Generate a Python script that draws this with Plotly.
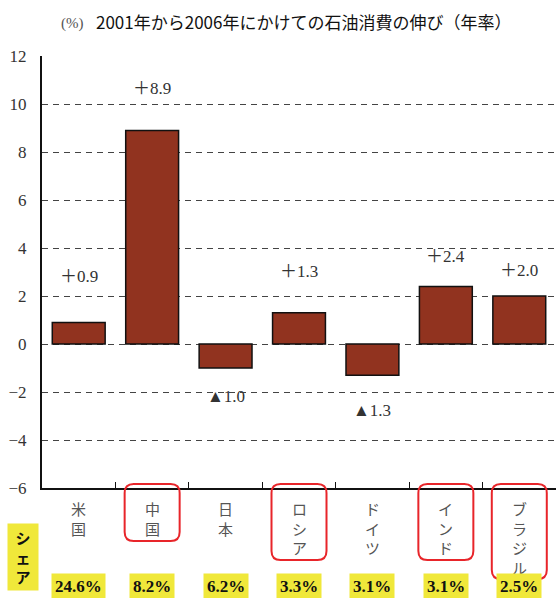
import plotly.graph_objects as go

countries = ["米国", "中国", "日本", "ロシア", "ドイツ", "インド", "ブラジル"]
growth = [0.9, 8.9, -1.0, 1.3, -1.3, 2.4, 2.0]
growth_labels = ["＋0.9", "＋8.9", "▲1.0", "＋1.3", "▲1.3", "＋2.4", "＋2.0"]
label_shift = [46, 42, -28, 41, -35, 30, 26]
shares = ["24.6%", "8.2%", "6.2%", "3.3%", "3.1%", "3.1%", "2.5%"]
highlighted = ["中国", "ロシア", "インド", "ブラジル"]
y_ticks = [-6, -4, -2, 0, 2, 4, 6, 8, 10, 12]

W, H = 556, 598
ML, MR, MT, MB = 42, 0, 56, 110
PW, PH = W - ML - MR, H - MT - MB
n = len(countries)

SERIF = "Liberation Serif, DejaVu Serif, Noto Sans CJK JP"
CJK = "Noto Sans CJK JP"

fig = go.Figure()
fig.add_trace(go.Bar(
    x=countries, y=growth, width=0.72,
    marker=dict(color="#91331F", line=dict(color="#111111", width=1.5)),
    hoverinfo="skip",
))

ann = []
# value labels
for c, v, t, s in zip(countries, growth, growth_labels, label_shift):
    ann.append(dict(x=c, y=v, xref="x", yref="y", text=t, showarrow=False,
                    yshift=s, font=dict(family=SERIF, size=17, color="#333333")))


def px_to_py(py):
    return (MT + PH - py) / PH


def px_to_px(px):
    return (px - ML) / PW


# vertical category labels and shares
for i, c in enumerate(countries):
    ann.append(dict(x=c, y=0, xref="x", yref="paper", yanchor="top", yshift=-8,
                    text="<br>".join(list(c)), showarrow=False,
                    font=dict(family=CJK, size=15, color="#555555")))
    ann.append(dict(x=c, y=px_to_py(586), xref="x", yref="paper", yanchor="middle",
                    text="<b>" + shares[i] + "</b>", showarrow=False,
                    bgcolor="#F0E83A", borderpad=3,
                    font=dict(family=SERIF, size=17, color="#111111")))

# share heading
ann.append(dict(x=px_to_px(23), y=px_to_py(557), xref="paper", yref="paper",
                xanchor="center", yanchor="middle",
                text="<b>シ<br>ェ<br>ア</b>", showarrow=False, bgcolor="#F0E83A",
                width=28, height=64, font=dict(family=CJK, size=15, color="#111111")))

# title
ann.append(dict(x=px_to_px(59), y=px_to_py(23), xref="paper", yref="paper",
                xanchor="left", yanchor="middle",
                text="(%)", showarrow=False, font=dict(family=SERIF, size=15, color="#555555")))
ann.append(dict(x=px_to_px(94), y=px_to_py(22), xref="paper", yref="paper",
                xanchor="left", yanchor="middle",
                text="2001年から2006年にかけての石油消費の伸び（年率）", showarrow=False,
                font=dict(family=CJK, size=17, color="#111111")))

# rounded red boxes
shapes = []
r_x, r_y = 9 / PW, 9 / PH
for i, c in enumerate(countries):
    if c not in highlighted:
        continue
    cx = (i + 0.5) / n
    x0, x1 = cx - 27.5 / PW, cx + 27.5 / PW
    y1 = px_to_py(484)
    y0 = px_to_py(484 + 19 + 19 * len(c))
    path = (f"M {x0 + r_x},{y1} L {x1 - r_x},{y1} Q {x1},{y1} {x1},{y1 - r_y} "
            f"L {x1},{y0 + r_y} Q {x1},{y0} {x1 - r_x},{y0} "
            f"L {x0 + r_x},{y0} Q {x0},{y0} {x0},{y0 + r_y} "
            f"L {x0},{y1 - r_y} Q {x0},{y1} {x0 + r_x},{y1} Z")
    shapes.append(dict(type="path", xref="paper", yref="paper", path=path,
                       line=dict(color="#E8252A", width=2)))

fig.update_layout(
    width=W, height=H, margin=dict(l=ML, r=MR, t=MT, b=MB),
    paper_bgcolor="white", plot_bgcolor="white", showlegend=False,
    annotations=ann, shapes=shapes,
    xaxis=dict(showticklabels=False, showline=True, linecolor="#111111", linewidth=2,
               ticks="inside", tickson="boundaries", ticklen=6, tickcolor="#111111",
               showgrid=False, range=[-0.5, n - 0.5]),
    yaxis=dict(range=[-6, 12], tickvals=y_ticks, showline=True, linecolor="#111111",
               linewidth=2, showgrid=True, gridcolor="#444444", griddash="6px,5px",
               gridwidth=1, zeroline=False, ticks="", ticklabelstandoff=10,
               tickfont=dict(family=SERIF, size=17, color="#333333")),
)

fig.write_html("out.html")
